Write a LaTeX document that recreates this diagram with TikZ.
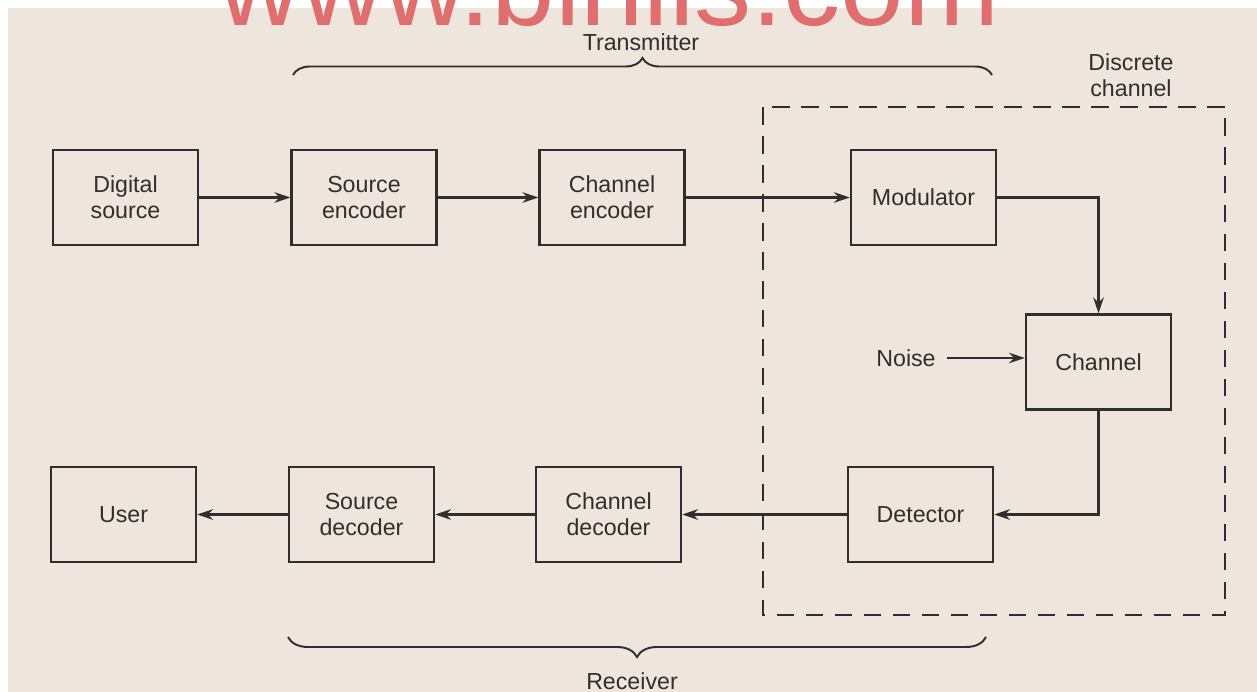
\documentclass[tikz,border=0pt]{standalone}
\usepackage{xcolor}
\usepackage{fontspec}
\setmainfont{Liberation Sans}
\usepackage{tikz}
\usetikzlibrary{arrows.meta, decorations.pathreplacing}
\definecolor{paper}{RGB}{238,229,220}
\definecolor{ink}{RGB}{48,46,46}
\definecolor{wmred}{RGB}{224,110,110}
\newcommand{\diafont}{\fontsize{13.2}{14.8}\selectfont}
\tikzset{
  block/.style={rectangle, draw=ink, text=ink, align=center,
    minimum width=2.9cm, minimum height=1.9cm, inner sep=0pt,
    font=\diafont, line width=1.4pt},
  tag/.style={text=ink, align=center, font=\diafont},
  arrow/.style={-{Stealth[length=9pt, width=6pt, inset=3pt]}, line width=1.5pt, color=ink},
  chanbox/.style={draw=ink, line width=1.2pt, dash pattern=on 10pt off 6.5pt},
  bracket/.style={draw=ink, line width=1.1pt, decorate,
    decoration={brace, amplitude=#1}}
}

\begin{document}
\begin{tikzpicture}[x=0.02cm, y=-0.02cm]
  % scanned page
  \fill[white] (0,0) rectangle (1257,692);
  \fill[paper] (8,8) rectangle (1257,692);
  \useasboundingbox (0,0) rectangle (1257,692);
  % watermark
  \node[anchor=base, inner sep=0pt, text=wmred, font=\fontsize{65}{70}\selectfont] (wmark) at (609,26) {\smash{www.binils.com}};
  % Transmitter row
  \node[block] (dsrc) at (125.5,197.5) {Digital\\source};
  \node[block] (senc) at (364,197.5) {Source\\encoder};
  \node[block] (cenc) at (612,197.5) {Channel\\encoder};
  \node[block] (mod) at (923.5,197.5) {Modulator};
  % Channel
  \node[block] (chan) at (1098.5,362) {Channel};
  \node[tag] (noise) at (906,358) {Noise};
  % Receiver row
  \node[block] (det) at (920.5,514.5) {Detector};
  \node[block] (cdec) at (608.5,514.5) {Channel\\decoder};
  \node[block] (sdec) at (361.5,514.5) {Source\\decoder};
  \node[block] (user) at (123.5,514.5) {User};
  % Discrete channel frame
  \draw[chanbox] (763,107) rectangle (1225,615);
  \node[tag] (dclabel) at (1131,75.5) {Discrete\\channel};
  % Connectors
  \draw[arrow] (dsrc) -- (senc);
  \draw[arrow] (senc) -- (cenc);
  \draw[arrow] (cenc) -- (mod);
  \draw[arrow] (mod.east) -| (chan.north);
  \draw[arrow, shorten <=3pt] (noise.east) -- (noise.east -| chan.west);
  \draw[arrow] (chan.south) |- (det.east);
  \draw[arrow] (det) -- (cdec);
  \draw[arrow] (cdec) -- (sdec);
  \draw[arrow] (sdec) -- (user);
  % Braces
  \coordinate (txl) at (293,75);
  \coordinate (txr) at (992,75);
  \coordinate (rxl) at (288,637);
  \coordinate (rxr) at (986,637);
  \draw[bracket=0.34cm] (txl) -- (txr);
  \draw[bracket=0.4cm] (rxr) -- (rxl);
  \node[tag] (txlabel) at (641,42) {Transmitter};
  \node[tag] (rxlabel) at (632,681) {Receiver};
\end{tikzpicture}
\end{document}
